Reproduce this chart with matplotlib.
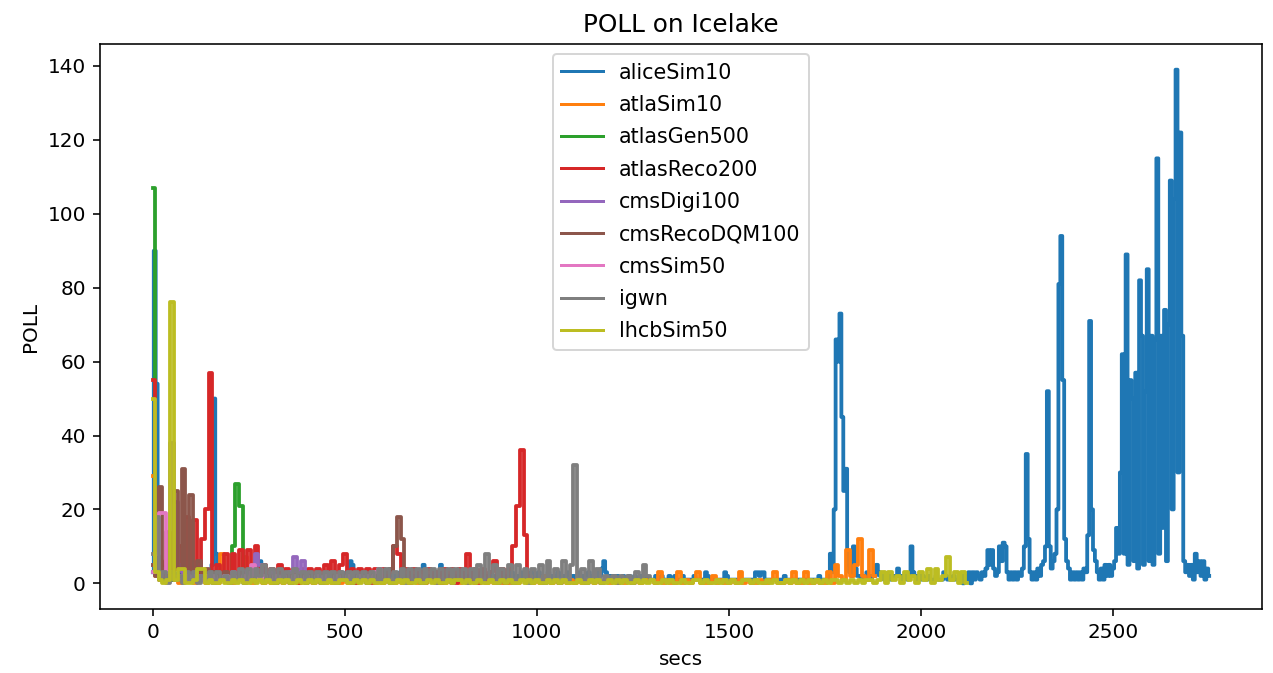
import numpy as np
import matplotlib
matplotlib.use("Agg")
import matplotlib.pyplot as plt

# ---------------- data (POLL values, sampled every STEP seconds) ----------------
alice_step = 5
aliceSim10 = [
    3, 90, 54, 12, 5, 3, 2, 2, 3, 2, 2, 3, 2, 2, 3, 2, 2, 3, 2, 2,
    2, 3, 2, 2, 3, 2, 3, 2, 2, 3, 2, 5, 50, 8, 4, 3, 2, 3, 2, 2,
    2, 2, 3, 2, 2, 3, 2, 2, 3, 2, 2, 3, 2, 2, 3, 2, 6, 5, 3, 2,
    2, 2, 3, 2, 2, 2, 3, 2, 2, 2, 3, 2, 2, 2, 3, 2, 2, 2, 3, 2,
    2, 2, 3, 2, 2, 2, 3, 2, 2, 2, 3, 2, 2, 2, 3, 2, 2, 2, 3, 2,
    2, 3, 2, 6, 5, 3, 2, 2, 3, 2, 2, 1, 2, 3, 2, 2, 1, 2, 3, 2,
    2, 1, 2, 3, 2, 2, 1, 2, 2, 3, 2, 1, 2, 2, 3, 2, 2, 1, 2, 3,
    3, 5, 2, 2, 1, 2, 2, 3, 2, 2, 5, 3, 2, 1, 2, 2, 3, 2, 1, 2,
    2, 3, 2, 1, 2, 2, 3, 2, 1, 2, 2, 3, 2, 2, 1, 2, 3, 2, 2, 1,
    2, 2, 3, 2, 1, 2, 2, 3, 2, 1, 2, 2, 3, 2, 1, 2, 2, 3, 2, 1,
    2, 3, 2, 2, 1, 2, 3, 2, 2, 1, 2, 3, 2, 2, 1, 2, 3, 2, 2, 1,
    2, 2, 3, 2, 1, 2, 2, 3, 2, 1, 2, 2, 3, 2, 4, 6, 3, 2, 1, 2,
    2, 1, 2, 1, 1, 2, 1, 1, 2, 1, 1, 2, 1, 1, 2, 1, 1, 2, 1, 1,
    1, 1, 2, 1, 1, 2, 1, 1, 1, 2, 1, 1, 2, 1, 1, 1, 2, 1, 1, 1,
    1, 1, 2, 1, 1, 1, 1, 1, 3, 2, 1, 1, 1, 1, 1, 1, 1, 1, 3, 2,
    1, 1, 1, 1, 1, 1, 1, 1, 1, 1, 1, 1, 1, 1, 3, 3, 2, 3, 3, 1,
    1, 1, 1, 1, 1, 1, 1, 1, 1, 2, 1, 1, 1, 1, 1, 1, 1, 1, 1, 1,
    1, 1, 1, 1, 1, 1, 1, 2, 1, 1, 1, 1, 2, 8, 3, 20, 66, 60, 73, 45,
    25, 31, 5, 3, 2, 10, 4, 2, 2, 1, 2, 1, 3, 2, 1, 2, 2, 5, 3, 2,
    2, 1, 2, 2, 1, 2, 2, 2, 4, 2, 1, 2, 2, 1, 2, 10, 3, 2, 1, 2,
    1, 2, 1, 1, 2, 1, 1, 1, 2, 1, 1, 1, 3, 2, 1, 1, 1, 2, 1, 1,
    1, 2, 0, 2, 1, 3, 0, 3, 1, 3, 2, 1, 3, 2, 4, 9, 5, 9, 4, 2,
    3, 10, 6, 11, 10, 3, 1, 3, 1, 3, 1, 3, 2, 4, 10, 35, 12, 3, 1, 3,
    1, 4, 2, 5, 6, 10, 52, 10, 4, 6, 8, 20, 81, 94, 55, 12, 6, 4, 1, 3,
    1, 3, 1, 3, 1, 4, 3, 13, 71, 20, 9, 6, 3, 1, 4, 1, 5, 2, 5, 2,
    4, 6, 15, 8, 30, 62, 8, 89, 5, 55, 50, 6, 57, 4, 82, 67, 5, 52, 85, 6,
    67, 5, 66, 115, 8, 67, 15, 74, 6, 70, 109, 20, 104, 139, 30, 122, 67, 6, 3, 5,
    2, 5, 1, 8, 3, 6, 2, 6, 1, 4, 2,
]

step = 10
atlaSim10 = [
    29, 2, 1, 1, 2, 1, 1, 0, 1, 1,
    1, 0, 1, 1, 0, 1, 1, 0, 8, 1,
    1, 0, 1, 1, 7, 1, 0, 1, 1, 0,
    1, 0, 1, 1, 0, 1, 0, 1, 0, 1,
    0, 1, 0, 1, 1, 0, 1, 0, 1, 0,
    1, 0, 1, 0, 1, 1, 0, 1, 0, 1,
    0, 1, 1, 0, 1, 0, 1, 0, 1, 0,
    1, 0, 1, 1, 0, 1, 0, 1, 0, 1,
    0, 1, 0, 1, 0, 1, 1, 0, 1, 0,
    1, 0, 1, 0, 1, 0, 1, 1, 2, 0,
    1, 0, 2, 1, 0, 1, 0, 1, 0, 1,
    0, 1, 0, 1, 1, 0, 1, 0, 1, 0,
    1, 0, 1, 0, 1, 0, 1, 0, 1, 1,
    1, 0, 3, 0, 1, 0, 0, 3, 0, 1,
    0, 1, 3, 0, 0, 0, 2, 0, 1, 0,
    0, 1, 0, 3, 0, 1, 0, 0, 1, 0,
    0, 1, 3, 0, 0, 1, 0, 3, 0, 0,
    3, 0, 0, 1, 0, 0, 3, 0, 5, 2,
    1, 9, 2, 5, 12, 2, 1, 9, 2,
]

atlasGen500 = [107, 3, 2, 1, 2, 1, 1, 2, 1, 1, 2, 1, 1, 2, 1, 1, 2, 1, 1, 2,
               2, 10, 27, 21, 2]

atlasReco200 = [
    55, 3, 6, 2, 5, 2, 4, 10, 3, 18,
    2, 17, 2, 12, 20, 57, 3, 5, 1, 8,
    1, 8, 1, 9, 2, 9, 1, 10, 1, 5,
    1, 4, 0, 5, 1, 4, 1, 4, 0, 4,
    1, 4, 1, 4, 0, 5, 1, 6, 1, 5,
    8, 1, 4, 0, 4, 1, 4, 0, 4, 1,
    4, 1, 3, 10, 8, 1, 4, 0, 4, 1,
    3, 0, 4, 1, 3, 0, 4, 1, 4, 0,
    4, 1, 8, 1, 4, 0, 4, 1, 3, 6,
    1, 4, 0, 4, 10, 21, 36, 13, 2,
]

cmsDigi100 = [
    5, 3, 2, 4, 3, 38, 22, 5, 3, 2,
    2, 3, 2, 1, 2, 3, 2, 1, 2, 2,
    2, 3, 2, 2, 3, 2, 2, 8, 5, 2,
    2, 3, 2, 2, 2, 2, 3, 7, 3, 6,
    1,
]

cmsRecoDQM100 = [
    5, 2, 26, 3, 14, 3, 25, 4, 31, 3,
    24, 2, 6, 3, 4, 2, 3, 2, 2, 3,
    2, 1, 2, 3, 2, 1, 2, 2, 1, 2,
    2, 1, 2, 2, 1, 2, 2, 1, 2, 2,
    1, 2, 2, 1, 2, 1, 2, 2, 1, 2,
    2, 1, 2, 2, 1, 2, 1, 2, 2, 1,
    3, 3, 4, 10, 18, 12, 2,
]

cmsSim50 = [
    3, 8, 19, 19, 3, 2, 1, 2, 1, 2,
    1, 2, 1, 1, 2, 1, 2, 1, 1, 2,
    1, 2, 1, 1, 2, 1, 5, 2, 1, 2,
    1, 1, 2, 1, 2, 1, 1, 2, 1, 1,
    2, 1, 1, 2, 1, 2, 1, 1, 2, 1,
    1, 2, 1, 1, 2, 1, 2, 1, 3, 4,
    1,
]

igwn = [
    8, 18, 1, 3, 0, 3, 1, 2, 0, 3,
    1, 3, 0, 2, 1, 3, 0, 3, 1, 2,
    0, 3, 1, 4, 0, 4, 1, 4, 2, 5,
    1, 4, 0, 4, 1, 3, 0, 4, 1, 3,
    0, 3, 1, 3, 0, 3, 1, 3, 0, 3,
    1, 3, 0, 3, 1, 3, 0, 3, 1, 4,
    1, 4, 0, 3, 1, 4, 0, 4, 1, 4,
    0, 4, 1, 4, 0, 4, 1, 4, 0, 4,
    1, 4, 0, 4, 1, 5, 1, 8, 1, 5,
    0, 4, 1, 5, 0, 5, 1, 4, 0, 4,
    1, 5, 0, 6, 1, 4, 0, 6, 1, 5,
    32, 1, 4, 0, 6, 1, 4, 0, 2, 1,
    2, 0, 2, 1, 2, 0, 3, 1, 5, 2,
    1,
]

lhcbSim50 = [
    50, 3, 1, 0, 1, 76, 1, 4, 4, 0,
    0, 1, 4, 4, 0, 1, 0, 0, 1, 0,
    0, 1, 0, 1, 0, 0, 1, 0, 1, 0,
    1, 0, 0, 1, 0, 1, 0, 0, 1, 0,
    0, 1, 0, 1, 0, 0, 1, 0, 0, 1,
    1, 0, 0, 1, 0, 1, 0, 1, 0, 0,
    0, 1, 0, 0, 1, 0, 1, 0, 0, 1,
    0, 0, 1, 0, 1, 0, 0, 1, 0, 1,
    1, 0, 1, 0, 0, 1, 0, 0, 1, 0,
    0, 1, 0, 1, 0, 0, 1, 0, 1, 0,
    1, 0, 0, 1, 0, 1, 0, 1, 0, 0,
    0, 1, 0, 0, 1, 0, 1, 0, 0, 1,
    0, 1, 0, 1, 0, 0, 1, 0, 1, 0,
    1, 0, 0, 1, 0, 1, 0, 0, 1, 0,
    0, 1, 1, 0, 1, 0, 0, 1, 0, 1,
    0, 1, 0, 0, 1, 1, 0, 1, 0, 0,
    1, 0, 1, 0, 0, 1, 0, 1, 0, 1,
    0, 1, 0, 1, 0, 1, 0, 1, 1, 0,
    1, 0, 1, 0, 1, 0, 1, 1, 0, 1,
    3, 0, 3, 1, 2, 0, 3, 1, 2, 0,
    3, 1, 4, 0, 4, 1, 2, 7, 1, 3,
    0, 3, 0,
]

series = [
    ("aliceSim10", aliceSim10, alice_step),
    ("atlaSim10", atlaSim10, step),
    ("atlasGen500", atlasGen500, step),
    ("atlasReco200", atlasReco200, step),
    ("cmsDigi100", cmsDigi100, step),
    ("cmsRecoDQM100", cmsRecoDQM100, step),
    ("cmsSim50", cmsSim50, step),
    ("igwn", igwn, step),
    ("lhcbSim50", lhcbSim50, step),
]

# ---------------- figure ----------------
W, H, DPI = 1273, 673, 144
fig = plt.figure(figsize=(W / DPI, H / DPI), dpi=DPI)
ax = fig.add_axes([100 / W, 1 - 609 / H, (1262 - 100) / W, (609 - 44) / H])

for name, vals, st in series:
    secs = np.arange(len(vals)) * st
    ax.plot(secs, vals, label=name, drawstyle="steps-mid", linewidth=1.9)

ax.set_title("POLL on Icelake", fontsize=12.4)
ax.set_xlabel("secs")
ax.set_ylabel("POLL")
leg = ax.legend(loc="upper center", fontsize=10.3, labelspacing=0.6)
for line in leg.get_lines():
    line.set_linewidth(1.5)

fig.savefig("out.png", dpi=DPI)
